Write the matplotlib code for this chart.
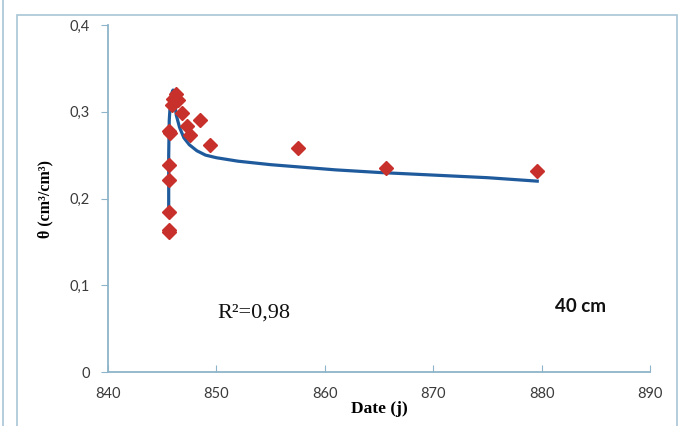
import matplotlib.pyplot as plt
from matplotlib.patches import Rectangle
from matplotlib.lines import Line2D

# measured points (date in days, water content)
date_obs = [845.6, 845.6, 845.65, 845.65, 845.65, 845.65, 845.7, 845.9, 846.0,
            846.3, 846.5, 846.8, 847.3, 847.6, 848.5, 849.4, 857.5, 865.6, 879.6]
theta_obs = [0.161, 0.164, 0.185, 0.221, 0.239, 0.278, 0.276, 0.308, 0.315,
             0.321, 0.313, 0.298, 0.283, 0.273, 0.290, 0.262, 0.258, 0.235, 0.232]

# fitted curve
date_fit = [845.6, 845.6, 845.65, 845.75, 845.9, 846.0, 846.15, 846.3, 846.6,
            847.0, 847.5, 848.2, 849.0, 850.0, 852.0, 855.0, 858.0, 861.0,
            865.0, 870.0, 875.0, 879.6]
theta_fit = [0.185, 0.250, 0.290, 0.310, 0.322, 0.325, 0.310, 0.296, 0.282,
             0.270, 0.262, 0.255, 0.250, 0.247, 0.243, 0.239, 0.236, 0.233,
             0.230, 0.227, 0.224, 0.220]

xticks = [840, 850, 860, 870, 880, 890]
yticks = [0, 0.1, 0.2, 0.3, 0.4]
ytick_labels = ["0", "0,1", "0,2", "0,3", "0,4"]

axis_col = "#8db4c8"
text_col = "#3a3a3a"

fig = plt.figure(figsize=(6.8, 4.26), dpi=100)
fig.patch.set_facecolor("white")

# chart-area frame like the spreadsheet export
fig.patches.append(Rectangle((17 / 680, -0.01), 660 / 680, (426 - 15) / 426 + 0.01,
                             transform=fig.transFigure, fill=False,
                             edgecolor="#a9c6d6", lw=1.2))
fig.lines.append(Line2D([3 / 680, 3 / 680], [0, 1], transform=fig.transFigure,
                        color="#a9c6d6", lw=1.2))

ax = fig.add_axes([108 / 680, 54 / 426, 542 / 680, 347 / 426])

ax.plot(date_fit, theta_fit, color="#1f5b9c", lw=2.3, zorder=2)
ax.plot(date_obs, theta_obs, ls="none", marker="D", ms=7,
        color="#c8312b", mec="#c8312b", zorder=3)

ax.set_xlim(840, 890)
ax.set_ylim(0, 0.4)
ax.set_xticks(xticks)
ax.set_yticks(yticks)
ax.set_yticklabels(ytick_labels)

for s in ("top", "right"):
    ax.spines[s].set_visible(False)
for s in ("left", "bottom"):
    ax.spines[s].set_color(axis_col)
    ax.spines[s].set_linewidth(1.3)

ax.tick_params(axis="y", direction="out", length=5, color=axis_col,
               labelsize=10.5, labelcolor=text_col, pad=8)
ax.tick_params(axis="x", direction="in", length=5, color=axis_col,
               labelsize=10.5, labelcolor=text_col, pad=11)
for lab in ax.get_xticklabels() + ax.get_yticklabels():
    lab.set_family("Lato")

ax.set_xlabel("Date (j)", family="Liberation Serif", fontweight="bold",
              fontsize=12.5, labelpad=0)
ax.set_ylabel("θ (cm³/cm³)", family="Liberation Serif", fontweight="bold",
              fontsize=11.5, labelpad=12)

ax.text(850.1, 0.068, "R²=0,98", family="Liberation Serif", fontsize=16,
        va="center", ha="left", color="#111111")
ax.text(881.2, 0.076, "40 cm", family="Lato", fontweight="bold",
        fontsize=13.5, va="center", ha="left", color="#111111")

fig.savefig("out.png", dpi=100)
